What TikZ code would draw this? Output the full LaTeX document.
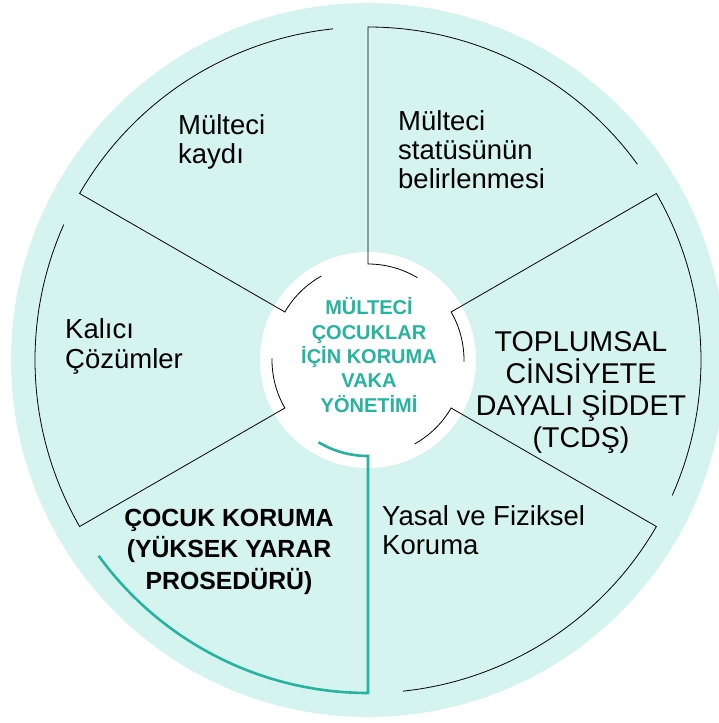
\documentclass[tikz,border=0pt]{standalone}
\usepackage{fontspec}
\setmainfont{Liberation Sans}
\definecolor{wheelfill}{RGB}{213,244,240}
\definecolor{wheelteal}{RGB}{38,180,160}

\begin{document}
\begin{tikzpicture}[x=1pt, y=1pt,
	segline/.style={draw=black, line width=0.8pt},
	segteal/.style={draw=wheelteal, line width=2.6pt},
	lbl/.style={inner sep=0pt, align=left, anchor=base west, font=\fontsize{27.5}{29}\selectfont},
	lblbold/.style={inner sep=0pt, align=center, anchor=base, font=\bfseries\fontsize{24.8}{31.5}\selectfont},
	hubtext/.style={inner sep=0pt, align=center, anchor=base, text=wheelteal, font=\bfseries\fontsize{20}{24.3}\selectfont}]
				\useasboundingbox (-368,-363) rectangle (351,360);
				\clip (-368,-363) rectangle (351,360);
				\fill[wheelfill] (0,0) circle (357);
				\fill[white] (0,0) circle (108);
				\foreach \a in {30,90,150,210,330}
					\draw[segline] ({\a-54}:333) arc[start angle=\a-54, end angle=\a, radius=333] -- (\a:96) arc[start angle=\a, end angle=\a-31, radius=96];
				\draw[segteal] (216:333) arc[start angle=216, end angle=270, radius=333] -- (270:96) arc[start angle=270, end angle=239, radius=96];
				\node[hubtext] (hub) at (1,-52) {MÜLTECİ\\ÇOCUKLAR\\İÇİN KORUMA\\VAKA\\YÖNETİMİ};
				\node[lbl] (kayit) at (-190,196) {Mülteci\\kaydı};
				\node[lbl] (statu) at (30,171) {Mülteci\\statüsünün\\belirlenmesi};
				\node[lbl, font=\fontsize{27.5}{30}\selectfont] (cozum) at (-303,-8) {Kalıcı\\Çözümler};
				\node[lbl, align=center, anchor=base, font=\fontsize{28.6}{32}\selectfont] (tcds) at (213,-87) {TOPLUMSAL\\CİNSİYETE\\DAYALI ŞİDDET\\(TCDŞ)};
				\node[lbl] (yasal) at (14,-194) {Yasal ve Fiziksel\\Koruma};
				\node[lblbold] (cocuk) at (-139,-229) {ÇOCUK KORUMA\\(YÜKSEK YARAR\\PROSEDÜRÜ)};
			\end{tikzpicture}
\end{document}
